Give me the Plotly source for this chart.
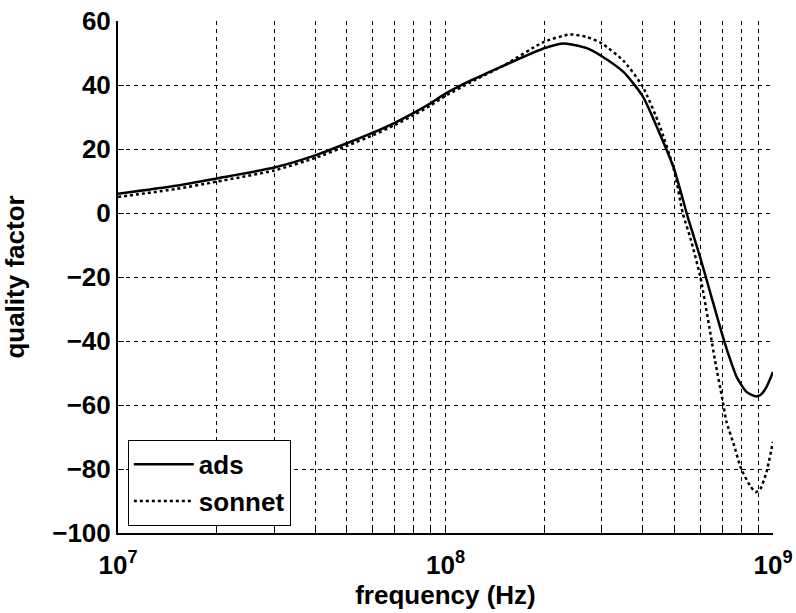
import plotly.graph_objects as go

ads_freq = [1e7, 1.5e7, 2e7, 3e7, 4e7, 5e7, 6e7, 7e7, 8e7, 9e7, 1e8, 1.2e8, 1.5e8,
            2e8, 2.3e8, 2.7e8, 3e8, 3.5e8, 4e8, 4.5e8, 5e8, 5.5e8, 6e8, 6.5e8,
            7e8, 7.3e8, 7.75e8, 8.3e8, 8.85e8, 9.15e8, 9.55e8, 1e9]
ads = [6.0, 8.5, 10.8, 14.2, 18.0, 21.8, 25.1, 28.2, 31.3, 34.3, 37.3, 41.5, 46.0,
       51.5, 53.0, 51.5, 49.0, 44.0, 36.5, 25.0, 13.5, -1.5, -14.0, -26.5,
       -38.0, -44.0, -51.3, -55.9, -57.3, -56.9, -54.4, -49.7]
sonnet_freq = [1e7, 1.5e7, 2e7, 3e7, 4e7, 5e7, 6e7, 7e7, 8e7, 9e7, 1e8, 1.2e8, 1.5e8,
               2e8, 2.4e8, 2.7e8, 3e8, 3.5e8, 4e8, 4.5e8, 5e8, 5.3e8, 5.6e8, 6e8, 6.4e8,
               6.65e8, 7e8, 7.2e8, 7.6e8, 8e8, 8.5e8, 8.85e8, 9.15e8, 9.55e8, 1e9]
sonnet = [5.0, 7.5, 9.8, 13.3, 17.2, 21.0, 24.3, 27.5, 30.6, 33.6, 36.6, 41.0, 46.0,
          53.5, 55.8, 55.0, 53.0, 47.5, 39.5, 27.5, 13.0, 0.0, -8.0, -20.0, -36.0,
          -46.0, -58.0, -65.0, -72.5, -80.0, -85.1, -87.2, -86.2, -81.0, -71.5]

major_x = [1e7, 1e8, 1e9]
major_x_text = ["10<sup>7</sup>", "10<sup>8</sup>", "10<sup>9</sup>"]
minor_x = [m * d for d in (1e7, 1e8) for m in range(2, 10)]
y_ticks = [60, 40, 20, 0, -20, -40, -60, -80, -100]

FAMILY = "Liberation Sans, Arial, sans-serif"
font = dict(family=FAMILY, size=26, color="black", weight="bold")

fig = go.Figure()
fig.add_trace(go.Scatter(x=ads_freq, y=ads, mode="lines", name="ads",
                         line=dict(color="black", width=2.5, shape="spline", smoothing=0.6)))
fig.add_trace(go.Scatter(x=sonnet_freq, y=sonnet, mode="lines", name="sonnet",
                         line=dict(color="black", width=2.5, dash="dot", shape="spline", smoothing=0.6)))

fig.update_layout(
    width=796, height=613,
    margin=dict(l=118, r=23, t=21, b=80),
    paper_bgcolor="white", plot_bgcolor="white",
    font=font,
    showlegend=True,
    legend=dict(x=0.015, y=0.182, xanchor="left", yanchor="top",
                bordercolor="black", borderwidth=1, bgcolor="white",
                font=font, tracegroupgap=0, itemwidth=60),
)
fig.update_xaxes(
    type="log", range=[7, 9], automargin=False,
    tickvals=major_x, ticktext=major_x_text,
    tickfont=font, ticklabelstandoff=8,
    showline=True, linecolor="black", linewidth=2,
    ticks="inside", ticklen=6, tickcolor="black",
    showgrid=True, gridcolor="black", gridwidth=1, griddash="4px,4px",
    zeroline=False,
    minor=dict(tickvals=minor_x, showgrid=True, gridcolor="black", gridwidth=1,
               griddash="4px,4px", ticks="inside", ticklen=4, tickcolor="black"),
    title=dict(text="frequency (Hz)", font=font, standoff=4),
)
fig.update_yaxes(
    range=[-100, 60], tickvals=y_ticks, automargin=False,
    tickfont=font,
    showline=True, linecolor="black", linewidth=2,
    ticks="inside", ticklen=6, tickcolor="black",
    showgrid=True, gridcolor="black", gridwidth=1, griddash="4px,4px",
    zeroline=False,
    title=dict(text="quality factor", font=font, standoff=20),
)

fig.write_html("out.html")
